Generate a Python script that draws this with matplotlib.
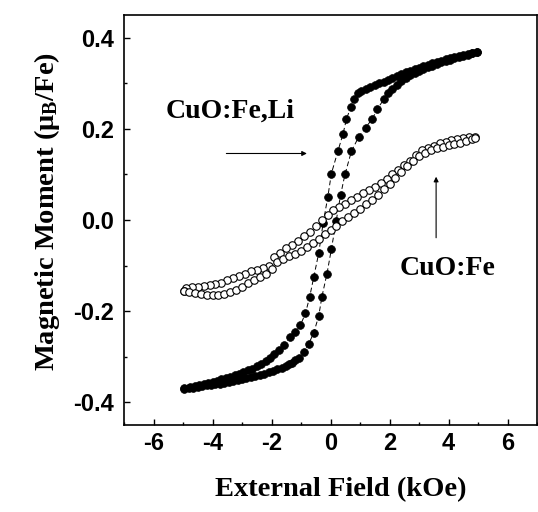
import matplotlib
matplotlib.use('Agg')
import matplotlib.pyplot as plt
from matplotlib.ticker import MultipleLocator

# CuO:Fe,Li  (filled circles) - field sweep from +5 down to -5 kOe
li_down_h = [4.95, 4.8, 4.65, 4.5, 4.35, 4.2, 4.05, 3.9, 3.75, 3.6, 3.45, 3.3, 3.15, 3.0,
             2.85, 2.7, 2.55, 2.4, 2.25, 2.1, 1.95, 1.8, 1.65, 1.5, 1.35, 1.2, 1.05, 0.94,
             0.79, 0.68, 0.54, 0.42, 0.25, 0.03, -0.09, -0.25, -0.40, -0.57, -0.71, -0.85,
             -1.02, -1.19, -1.36, -1.59, -1.75, -1.9, -2.05, -2.2, -2.35, -2.5, -2.65, -2.8,
             -2.95, -3.1, -3.25, -3.4, -3.55, -3.7, -3.85, -4.0, -4.15, -4.3, -4.45, -4.6,
             -4.75, -4.95]
li_down_m = [0.368, 0.366, 0.364, 0.362, 0.360, 0.358, 0.356, 0.353, 0.350, 0.347, 0.344,
             0.340, 0.337, 0.334, 0.331, 0.328, 0.324, 0.320, 0.316, 0.312, 0.308, 0.304,
             0.300, 0.296, 0.292, 0.288, 0.283, 0.278, 0.265, 0.247, 0.221, 0.188, 0.151,
             0.102, 0.051, -0.007, -0.073, -0.126, -0.170, -0.205, -0.231, -0.245, -0.256,
             -0.275, -0.285, -0.294, -0.302, -0.309, -0.315, -0.321, -0.326, -0.330, -0.334,
             -0.338, -0.341, -0.344, -0.347, -0.350, -0.353, -0.355, -0.358, -0.360, -0.362,
             -0.364, -0.366, -0.368]
# sweep back from -5 to +5 kOe
li_up_h = [-4.95, -4.8, -4.65, -4.5, -4.35, -4.2, -4.05, -3.9, -3.75, -3.6, -3.45, -3.3,
           -3.15, -3.0, -2.85, -2.7, -2.55, -2.4, -2.25, -2.1, -1.95, -1.8, -1.65, -1.5,
           -1.4, -1.31, -1.2, -1.08, -0.91, -0.74, -0.57, -0.40, -0.29, -0.12, 0.03, 0.19,
           0.34, 0.49, 0.71, 0.96, 1.19, 1.42, 1.59, 1.81, 1.95, 2.1, 2.25, 2.4, 2.55, 2.7,
           2.85, 3.0, 3.15, 3.3, 3.45, 3.6, 3.75, 3.9, 4.05, 4.2, 4.35, 4.5, 4.65, 4.8, 4.95]
li_up_m = [-0.370, -0.369, -0.368, -0.366, -0.365, -0.363, -0.362, -0.360, -0.359, -0.357,
           -0.355, -0.353, -0.351, -0.349, -0.347, -0.345, -0.342, -0.340, -0.337, -0.334,
           -0.331, -0.327, -0.324, -0.320, -0.317, -0.313, -0.308, -0.302, -0.289, -0.272,
           -0.248, -0.211, -0.168, -0.118, -0.064, -0.003, 0.054, 0.100, 0.151, 0.183,
           0.203, 0.222, 0.244, 0.265, 0.278, 0.288, 0.297, 0.305, 0.312, 0.318, 0.323,
           0.327, 0.331, 0.335, 0.339, 0.343, 0.346, 0.349, 0.352, 0.355, 0.358, 0.361,
           0.363, 0.366, 0.368]

# CuO:Fe  (open circles)
fe_down_h = [4.9, 4.7, 4.5, 4.3, 4.1, 3.9, 3.7, 3.5, 3.3, 3.1, 2.9, 2.7, 2.5, 2.3, 2.1, 1.9,
             1.7, 1.5, 1.3, 1.1, 0.9, 0.7, 0.5, 0.3, 0.1, -0.1, -0.3, -0.5, -0.7, -0.9, -1.1,
             -1.3, -1.5, -1.7, -1.9, -2.1, -2.3, -2.5, -2.7, -2.9, -3.1, -3.3, -3.5, -3.7,
             -3.9, -4.1, -4.3, -4.5, -4.7, -4.9, -4.98]
fe_down_m = [0.183, 0.182, 0.180, 0.177, 0.175, 0.172, 0.168, 0.163, 0.158, 0.153, 0.143,
             0.130, 0.120, 0.109, 0.100, 0.091, 0.082, 0.073, 0.066, 0.059, 0.051, 0.045,
             0.036, 0.028, 0.021, 0.012, 0.000, -0.013, -0.026, -0.036, -0.047, -0.055,
             -0.062, -0.072, -0.082, -0.102, -0.106, -0.109, -0.113, -0.118, -0.122, -0.127,
             -0.132, -0.138, -0.141, -0.143, -0.145, -0.146, -0.147, -0.150, -0.155]
fe_up_h = [-4.95, -4.8, -4.6, -4.4, -4.2, -4.0, -3.8, -3.6, -3.4, -3.2, -3.0, -2.8, -2.6,
           -2.4, -2.2, -2.0, -1.8, -1.6, -1.4, -1.2, -1.0, -0.8, -0.6, -0.4, -0.2, 0.0, 0.2,
           0.4, 0.6, 0.8, 1.0, 1.2, 1.4, 1.6, 1.8, 2.0, 2.2, 2.4, 2.6, 2.8, 3.0, 3.2, 3.4,
           3.6, 3.8, 4.0, 4.2, 4.4, 4.6, 4.8, 4.9]
fe_up_m = [-0.155, -0.158, -0.160, -0.162, -0.164, -0.165, -0.165, -0.163, -0.159, -0.153,
           -0.146, -0.139, -0.132, -0.125, -0.118, -0.107, -0.092, -0.085, -0.079, -0.074,
           -0.068, -0.060, -0.051, -0.041, -0.031, -0.022, -0.013, -0.003, 0.007, 0.016,
           0.025, 0.036, 0.045, 0.054, 0.068, 0.080, 0.092, 0.105, 0.119, 0.130, 0.140,
           0.148, 0.153, 0.157, 0.161, 0.164, 0.166, 0.169, 0.173, 0.177, 0.180]

serif = ['Liberation Serif', 'DejaVu Serif']
sans = ['Liberation Sans', 'DejaVu Sans']

fig = plt.figure(figsize=(5.38, 5.12), dpi=100)
ax = fig.add_axes([124 / 538, 1 - 425 / 512, 413 / 538, 410 / 512])

for h, m in [(li_down_h, li_down_m), (li_up_h, li_up_m)]:
    ax.plot(h, m, color='black', lw=0.7, ls=(0, (5, 3)), marker='o', ms=5.6,
            mfc='black', mec='black', mew=0.5)
for h, m in [(fe_down_h, fe_down_m), (fe_up_h, fe_up_m)]:
    ax.plot(h, m, ls='none', marker='o', ms=5.4, mfc='white', mec='black', mew=0.8)

ax.set_xlim(-7, 7)
ax.set_ylim(-0.45, 0.45)
ax.xaxis.set_minor_locator(MultipleLocator(1))
ax.yaxis.set_minor_locator(MultipleLocator(0.1))
ax.tick_params(which='both', direction='in', top=False, right=False, width=1)
ax.tick_params(which='major', length=4.5)
ax.tick_params(which='minor', length=2.5)
ax.tick_params(axis='y', pad=7)
ax.tick_params(axis='x', pad=5)
ax.set_yticks([-0.4, -0.2, 0.0, 0.2, 0.4])
ax.set_yticklabels(['-0.4', '-0.2', '0.0', '0.2', '0.4'])
ax.set_xticks([-6, -4, -2, 0, 2, 4, 6])
ax.set_xticklabels(['-6', '-4', '-2', '0', '2', '4', '6'])
for lab in ax.get_xticklabels() + ax.get_yticklabels():
    lab.set_family(sans)
    lab.set_fontweight('bold')
    lab.set_fontsize(17)
for sp in ax.spines.values():
    sp.set_linewidth(1.2)

plt.rcParams['mathtext.fontset'] = 'custom'
plt.rcParams['mathtext.rm'] = 'Liberation Serif:bold'
plt.rcParams['mathtext.it'] = 'Liberation Serif:bold'
plt.rcParams['mathtext.bf'] = 'Liberation Serif:bold'

fig.text(341 / 538, 1 - 490 / 512, 'External Field (kOe)', family=serif,
         fontweight='bold', fontsize=20.5, ha='center', va='center')
fig.text(47 / 538, 1 - 212 / 512, r'Magnetic Moment ($\mu_B$/Fe)', family=serif,
         fontweight='bold', fontsize=20.5, ha='center', va='center', rotation=90)

ax.text(-3.41, 0.239, 'CuO:Fe,Li', family=serif, fontweight='bold', fontsize=20,
        ha='center', va='center')
ax.annotate('', xy=(-0.8, 0.146), xytext=(-3.53, 0.146),
            arrowprops=dict(arrowstyle='-|>', color='black', lw=0.8,
                            mutation_scale=7, shrinkA=0, shrinkB=0))
ax.text(3.96, -0.107, 'CuO:Fe', family=serif, fontweight='bold', fontsize=20,
        ha='center', va='center')
ax.annotate('', xy=(3.58, 0.095), xytext=(3.58, -0.039),
            arrowprops=dict(arrowstyle='-|>', color='black', lw=0.8,
                            mutation_scale=7, shrinkA=0, shrinkB=0))

fig.savefig('out.png', dpi=100)
